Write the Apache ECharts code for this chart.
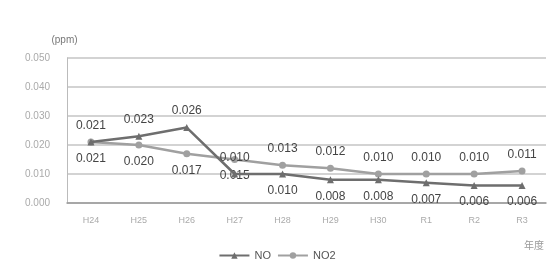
<!DOCTYPE html>
<html>
<head>
<meta charset="utf-8">
<script src="https://cdn.jsdelivr.net/npm/echarts@6/dist/echarts.min.js"></script>
<style>
html, body { margin: 0; padding: 0; background: #fff; }
#chart { width: 554px; height: 261px; }
</style>
</head>
<body>
<div id="chart"></div>
<script>
// 年度
const years = ['H24', 'H25', 'H26', 'H27', 'H28', 'H29', 'H30', 'R1', 'R2', 'R3'];
const noValues = [0.021, 0.023, 0.026, 0.010, 0.010, 0.008, 0.008, 0.007, 0.006, 0.006];
const no2Values = [0.021, 0.020, 0.017, 0.015, 0.013, 0.012, 0.010, 0.010, 0.010, 0.011];
// label above for the first 4 NO points, below for the rest (NO2 the other way round)
const noLabelTop = [true, true, true, true, false, false, false, false, false, false];

var chart = echarts.init(document.getElementById('chart'));

function withLabels(values, isTop) {
	return values.map(function(v, i) {
		return {
			value: v,
			label: { position: isTop[i] ? 'top' : 'bottom' }
		};
	});
}

var labelStyle = {
	show: true,
	color: '#444',
	fontSize: 12,
	fontFamily: 'Liberation Sans',
	distance: 7,
	formatter: function(p) { return p.value.toFixed(3); }
};

var option = {
	animation: false,
	grid: { left: 67, right: 8, top: 58, bottom: 58 },
	legend: {
		top: 245,
		left: 'center',
		itemWidth: 30,
		itemHeight: 8,
		itemGap: 6,
		textStyle: { color: '#555', fontSize: 11, fontFamily: 'Liberation Sans' },
		data: ['NO', 'NO2']
	},
	xAxis: {
		type: 'category',
		data: years,
		name: '年度',
		nameLocation: 'end',
		nameGap: 0,
		nameTextStyle: {
			color: '#999', fontSize: 10, fontFamily: 'Noto Sans CJK JP',
			align: 'right', verticalAlign: 'top', padding: [37, 2, 0, 0]
		},
		axisLine: { lineStyle: { color: '#999', width: 1.5 } },
		axisTick: { show: false },
		axisLabel: { color: '#aaa', fontSize: 9, margin: 13, fontFamily: 'Liberation Sans' }
	},
	yAxis: {
		type: 'value',
		min: 0,
		max: 0.05,
		interval: 0.01,
		name: '(ppm)',
		nameLocation: 'end',
		nameGap: 13,
		nameTextStyle: { color: '#777', fontSize: 10, align: 'center', padding: [0, 0, 0, -5] },
		axisLine: { show: true, lineStyle: { color: '#bbb' } },
		axisLabel: {
			color: '#aaa', fontSize: 10, margin: 17, fontFamily: 'Liberation Sans',
			formatter: function(v) { return v.toFixed(3); }
		},
		splitLine: { lineStyle: { color: '#c4c4c4', width: 1.5 } }
	},
	series: [
		{
			name: 'NO',
			type: 'line',
			data: withLabels(noValues, noLabelTop),
			symbol: 'triangle',
			symbolSize: 7,
			itemStyle: { color: '#6e6e6e' },
			lineStyle: { color: '#6e6e6e', width: 2.5 },
			label: labelStyle,
			z: 3
		},
		{
			name: 'NO2',
			type: 'line',
			data: withLabels(no2Values, noLabelTop.map(function(t) { return !t; })),
			symbol: 'circle',
			symbolSize: 7,
			itemStyle: { color: '#a0a0a0' },
			lineStyle: { color: '#a0a0a0', width: 2.5 },
			label: labelStyle,
			z: 2
		}
	]
};

chart.setOption(option);
</script>
</body>
</html>
